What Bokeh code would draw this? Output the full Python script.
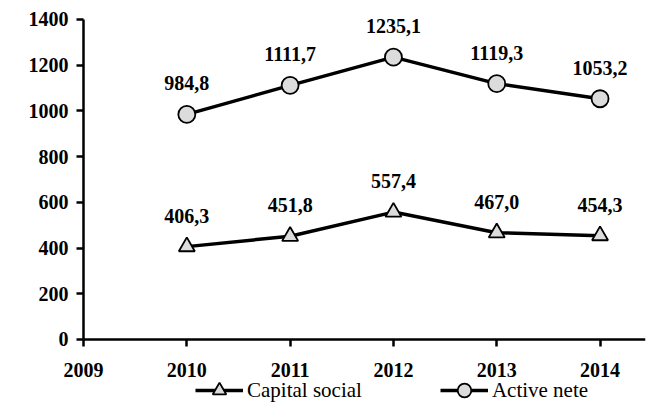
from bokeh.plotting import figure
from bokeh.models import ColumnDataSource, Range1d, FixedTicker, Legend, LegendItem
from bokeh.core.properties import value
from bokeh.embed import file_html
from bokeh.resources import INLINE

years = [2010, 2011, 2012, 2013, 2014]
capital_social = [406.3, 451.8, 557.4, 467.0, 454.3]
active_nete = [984.8, 1111.7, 1235.1, 1119.3, 1053.2]
x_ticks = [2009, 2010, 2011, 2012, 2013, 2014]
y_ticks = [0, 200, 400, 600, 800, 1000, 1200, 1400]

def fmt(v):
    return f"{v:.1f}".replace(".", ",")

src_cs = ColumnDataSource(dict(x=years, y=capital_social, t=[fmt(v) for v in capital_social]))
src_an = ColumnDataSource(dict(x=years, y=active_nete, t=[fmt(v) for v in active_nete]))

FONT = "Liberation Serif"

# axes sit at x=2009 / y=0; the plot area extends beyond them to leave room
# for tick labels and the legend (drawn inside the frame so nothing is clipped)
X_AXIS_START, X_END = 2009, 2014.44
Y_AXIS_START, Y_AXIS_END = 0, 1400
X_MIN = 2008.39
Y_MIN, Y_MAX = -297.5, 1483

p = figure(width=660, height=407, output_backend="svg", toolbar_location=None,
           x_range=Range1d(X_MIN, X_END), y_range=Range1d(Y_MIN, Y_MAX),
           min_border_left=20, min_border_right=15, min_border_top=0, min_border_bottom=0)
p.outline_line_color = None
p.xgrid.visible = False
p.ygrid.visible = False
p.background_fill_color = "white"

for ax, ticks in ((p.xaxis, x_ticks), (p.yaxis, y_ticks)):
    ax.ticker = FixedTicker(ticks=ticks)
    ax.axis_line_width = 2.5
    ax.axis_line_color = "black"
    ax.major_tick_line_width = 2.5
    ax.major_tick_line_color = "black"
    ax.major_tick_in = 0
    ax.major_tick_out = 7
    ax.minor_tick_line_color = None
    ax.major_label_text_font = FONT
    ax.major_label_text_font_style = "bold"
    ax.major_label_text_font_size = "20px"
    ax.major_label_text_color = "black"
p.xaxis.major_label_standoff = 17
p.yaxis.major_label_standoff = 8
p.xaxis.fixed_location = Y_AXIS_START
p.yaxis.fixed_location = X_AXIS_START
p.xaxis.bounds = (X_AXIS_START, X_END)
p.yaxis.bounds = (Y_AXIS_START, Y_AXIS_END)

l1 = p.line("x", "y", source=src_cs, line_color="black", line_width=3.5)
m1 = p.scatter("x", "y", source=src_cs, marker="triangle", size=16,
               fill_color="#dcdcdc", line_color="black", line_width=1.8)
l2 = p.line("x", "y", source=src_an, line_color="black", line_width=3.5)
m2 = p.scatter("x", "y", source=src_an, marker="circle", size=17,
               fill_color="#dcdcdc", line_color="black", line_width=1.8)

for s in (src_cs, src_an):
    p.text("x", "y", text="t", source=s, text_font=value(FONT), text_font_style="bold",
           text_font_size="20px", text_align="center", text_baseline="bottom",
           y_offset=-24, text_color="black")

legend = Legend(items=[LegendItem(label="Capital social", renderers=[l1, m1]),
                       LegendItem(label="Active nete", renderers=[l2, m2])],
                orientation="horizontal", location=(175, 0),
                glyph_width=48, glyph_height=34, label_standoff=4, spacing=78,
                padding=0, margin=0, border_line_color=None, background_fill_alpha=0,
                label_text_font=FONT, label_text_font_size="21px", label_text_color="black")
p.add_layout(legend, "center")

open("out.html", "w").write(file_html(p, INLINE))
